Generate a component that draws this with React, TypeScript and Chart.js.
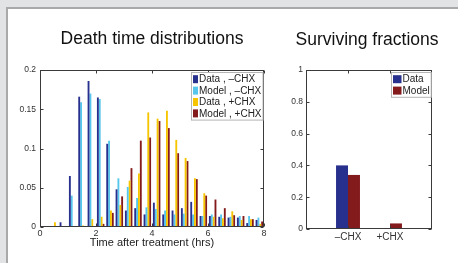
import React, { useEffect, useRef } from 'react';
import { Chart, registerables } from 'chart.js';

Chart.register(...registerables);

// ---- Death time distributions (histogram, 1/3 h bins, centers in hours) ----
const binCenters = [
  0.1667, 0.5, 0.8333, 1.1667, 1.5, 1.8333, 2.1667, 2.5, 2.8333, 3.1667, 3.5, 3.8333,
  4.1667, 4.5, 4.8333, 5.1667, 5.5, 5.8333, 6.1667, 6.5, 6.8333, 7.1667, 7.5, 7.8333,
];
const dataMinusCHX = [
  0, 0, 0.006, 0.065, 0.166, 0.186, 0.165, 0.106, 0.048, 0.021, 0.024, 0.016,
  0.031, 0.016, 0.021, 0.024, 0.032, 0.014, 0.014, 0.013, 0.012, 0.012, 0.005, 0.009,
];
const modelMinusCHX = [
  0, 0, 0, 0.040, 0.159, 0.170, 0.163, 0.110, 0.062, 0.051, 0.037, 0.025,
  0.023, 0.021, 0.016, 0.017, 0.016, 0.014, 0.016, 0.016, 0.013, 0.014, 0.014, 0.012,
];
const dataPlusCHX = [
  0, 0.006, 0, 0, 0.002, 0.010, 0.013, 0.021, 0.028, 0.059, 0.068, 0.146,
  0.138, 0.148, 0.111, 0.088, 0.062, 0.043, 0.013, 0.011, 0.020, 0.009, 0.010, 0.004,
];
const modelPlusCHX = [
  0, 0, 0, 0, 0, 0, 0.004, 0.018, 0.039, 0.075, 0.110, 0.114,
  0.135, 0.126, 0.094, 0.084, 0.061, 0.040, 0.035, 0.024, 0.015, 0.014, 0.010, 0.007,
];
const histLabels = ['Data , \u2013CHX', 'Model , \u2013CHX', 'Data , +CHX', 'Model , +CHX'];

// ---- Surviving fractions ----
const survivalCategories = ['', '\u2013CHX', '+CHX', ''];
const survivalData = [null, 0.40, 0, null];
const survivalModel = [null, 0.34, 0.035, null];
const survivalLabels = ['Data', 'Model'];

const DARK_BLUE = '#28308e';
const LIGHT_BLUE = '#57c6ec';
const YELLOW = '#f6c500';
const DARK_RED = '#831a1c';
const FONT = '"Liberation Sans", Arial, Helvetica, sans-serif';

const fmt = (v: any) => String(Math.round(Number(v) * 1000) / 1000);

const matlabPlugin = {
  id: 'matlab',
  afterDraw(chart: any, _args: any, opts: any) {
    const ctx = chart.ctx;
    const { left, right, top, bottom } = chart.chartArea;
    ctx.save();
    const L = Math.round(left) + 0.5;
    const R = Math.round(right) - 0.5;
    const T = Math.round(top) + 0.5;
    const B = Math.round(bottom) - 0.5;
    ctx.strokeStyle = '#3a3a3a';
    ctx.lineWidth = 1;
    ctx.strokeRect(L, T, R - L, B - T);
    const xs = chart.scales.x;
    const ys = chart.scales.y;
    ctx.beginPath();
    xs.ticks.forEach((t: any, i: number) => {
      if (t.label === '' || t.label == null) return;
      const px = Math.round(xs.getPixelForTick(i)) + 0.5;
      ctx.moveTo(px, B); ctx.lineTo(px, B - 3);
      ctx.moveTo(px, T); ctx.lineTo(px, T + 3);
    });
    ys.ticks.forEach((_t: any, i: number) => {
      const py = Math.round(ys.getPixelForTick(i)) + 0.5;
      ctx.moveTo(L, py); ctx.lineTo(L + 3, py);
      ctx.moveTo(R, py); ctx.lineTo(R - 3, py);
    });
    ctx.stroke();

    // title
    ctx.font = `17.5px ${FONT}`;
    ctx.fillStyle = '#111';
    ctx.textAlign = 'center';
    ctx.textBaseline = 'alphabetic';
    ctx.fillText(opts.title, (left + right) / 2 + (opts.titleDx || 0), opts.titleY);

    // legend (inside, top-right)
    const items = chart.data.datasets.map((d: any) => ({ label: d.label, color: d.backgroundColor }));
    ctx.font = `10px ${FONT}`;
    const textW = Math.max(...items.map((it: any) => ctx.measureText(it.label).width));
    const rowH = 11.4;
    const sw = opts.swatchW;
    const boxW = 1.5 + sw + 1 + textW + 1.5;
    const boxH = items.length * rowH + 2;
    const bx = Math.round(right - 1 - boxW) + 0.5;
    const by = Math.round(top + 2) + 0.5;
    ctx.fillStyle = '#fff';
    ctx.fillRect(bx, by, boxW, boxH);
    ctx.strokeStyle = '#b4b4b4';
    ctx.strokeRect(bx, by, boxW, boxH);
    ctx.textAlign = 'left';
    ctx.textBaseline = 'middle';
    items.forEach((it: any, i: number) => {
      const cy = by + 1 + rowH * (i + 0.5);
      ctx.fillStyle = it.color;
      ctx.fillRect(bx + 1.5, cy - 4, sw, 8);
      ctx.fillStyle = '#222';
      ctx.fillText(it.label, bx + 1.5 + sw + 1, cy + 0.5);
    });
    ctx.restore();
  },
};

function HistChart() {
  const ref = useRef<HTMLCanvasElement>(null);
  useEffect(() => {
    const colors = [DARK_BLUE, LIGHT_BLUE, YELLOW, DARK_RED];
    const series = [dataMinusCHX, modelMinusCHX, dataPlusCHX, modelPlusCHX];
    const chart = new Chart(ref.current!, {
      type: 'bar',
      data: {
        datasets: series.map((s, k) => ({
          label: histLabels[k],
          data: binCenters.map((x, i) => ({ x, y: s[i] })),
          backgroundColor: colors[k],
          borderWidth: 0,
          categoryPercentage: 0.8,
          barPercentage: 1.0,
        })),
      },
      options: {
        responsive: false,
        animation: false,
        devicePixelRatio: 1,
        layout: { padding: { left: 8, right: 16, top: 70, bottom: 12 } },
        plugins: {
          legend: { display: false },
          tooltip: { enabled: false },
          matlab: { title: 'Death time distributions', titleY: 44, swatchW: 5 },
        } as any,
        scales: {
          x: {
            type: 'linear',
            min: 0,
            max: 8,
            offset: false,
            grid: { display: false, drawTicks: false, offset: false },
            border: { display: false },
            ticks: { stepSize: 2, padding: 1, color: '#333', font: { family: FONT, size: 9 }, maxRotation: 0, callback: fmt },
            title: {
              display: true,
              text: 'Time after treatment (hrs)',
              color: '#222',
              font: { family: FONT, size: 11 },
              padding: { top: 0, bottom: 1.5 },
            },
            afterFit: (s: any) => { s.height = 24; },
          },
          y: {
            min: 0,
            max: 0.2,
            grid: { display: false, drawTicks: false },
            border: { display: false },
            ticks: { stepSize: 0.05, padding: 4, color: '#333', font: { family: FONT, size: 8.5 }, callback: fmt },
            afterFit: (s: any) => { s.width = 32; },
          },
        },
      } as any,
      plugins: [matlabPlugin],
    });
    return () => chart.destroy();
  }, []);
  return <canvas ref={ref} width={280} height={263} style={{ position: 'absolute', left: 0, top: 0 }} />;
}

function SurvivalChart() {
  const ref = useRef<HTMLCanvasElement>(null);
  useEffect(() => {
    const chart = new Chart(ref.current!, {
      type: 'bar',
      data: {
        labels: survivalCategories,
        datasets: [
          { label: survivalLabels[0], data: survivalData, backgroundColor: DARK_BLUE, borderWidth: 0, categoryPercentage: 0.57, barPercentage: 1.0 },
          { label: survivalLabels[1], data: survivalModel, backgroundColor: DARK_RED, borderWidth: 0, categoryPercentage: 0.57, barPercentage: 1.0 },
        ],
      },
      options: {
        responsive: false,
        animation: false,
        devicePixelRatio: 1,
        layout: { padding: { left: 6, right: 26, top: 70, bottom: 14 } },
        plugins: {
          legend: { display: false },
          tooltip: { enabled: false },
          matlab: { title: 'Surviving fractions', titleY: 44.5, titleDx: -2, swatchW: 8.5 },
        } as any,
        scales: {
          x: {
            type: 'category',
            offset: false,
            grid: { display: false, drawTicks: false, offset: false },
            border: { display: false },
            ticks: { padding: 2, color: '#333', font: { family: FONT, size: 10 }, maxRotation: 0, autoSkip: false },
            afterFit: (s: any) => { s.height = 20; },
          },
          y: {
            min: 0,
            max: 1,
            grid: { display: false, drawTicks: false },
            border: { display: false },
            ticks: { stepSize: 0.2, padding: 3, color: '#333', font: { family: FONT, size: 8.5 }, callback: fmt },
            afterFit: (s: any) => { s.width = 20; },
          },
        },
      } as any,
      plugins: [matlabPlugin],
    });
    return () => chart.destroy();
  }, []);
  return <canvas ref={ref} width={178} height={263} style={{ position: 'absolute', left: 280, top: 0 }} />;
}

export default function App() {
  return (
    <div
      style={{
        position: 'fixed',
        left: 0,
        top: 0,
        width: 458,
        height: 263,
        background: '#e2e3e5',
        overflow: 'hidden',
      }}
    >
      <div
        style={{
          position: 'absolute',
          left: 6,
          top: 7,
          width: 470,
          height: 280,
          background: '#ffffff',
          borderLeft: '2px solid #a9a9a9',
          borderTop: '2px solid #a9a9a9',
        }}
      />
      <HistChart />
      <SurvivalChart />
    </div>
  );
}
